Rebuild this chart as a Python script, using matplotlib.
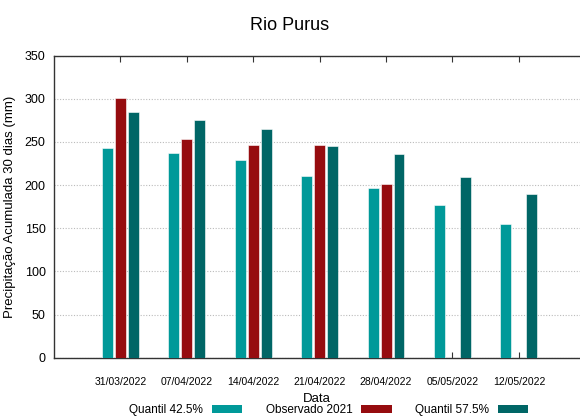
import numpy as np
import matplotlib.pyplot as plt
from matplotlib import font_manager
from matplotlib.patches import Patch

# dados
datas = ["31/03/2022", "07/04/2022", "14/04/2022", "21/04/2022",
         "28/04/2022", "05/05/2022", "12/05/2022"]
quantil_425 = [243, 237, 229, 211, 197, 177, 155]
observado_2021 = [301, 254, 246, 246, 201, np.nan, np.nan]
quantil_575 = [285, 276, 265, 245, 236, 210, 190]

names = {f.name for f in font_manager.fontManager.ttflist}
fam = "Liberation Sans Narrow" if "Liberation Sans Narrow" in names else "Liberation Sans"
plt.rcParams["font.family"] = [fam, "DejaVu Sans"]

fig = plt.figure(figsize=(5.8, 4.18), dpi=100)
ax = fig.add_axes([0.093, 0.1443, 0.907, 0.7224])

x = np.arange(1, len(datas) + 1)
w = 0.165
off = 0.195
series = [
    (quantil_425, "#009999", "Quantil 42.5%", -off),
    (observado_2021, "#960c0f", "Observado 2021", 0),
    (quantil_575, "#006666", "Quantil 57.5%", off),
]
handles = []
for vals, cor, nome, d in series:
    ax.bar(x + d, vals, width=w, color=cor, edgecolor="white", linewidth=0.4, zorder=3)
    handles.append(Patch(facecolor=cor, edgecolor="none", label=nome))

ax.set_xlim(0, 7.92)
ax.set_ylim(0, 350)
ax.set_yticks(np.arange(0, 351, 50))
ax.set_xticks(x)
ax.set_xticklabels(datas, fontsize=7.5)
ax.tick_params(axis="x", direction="in", length=4, top=True, pad=14, color="#333333")
ax.tick_params(axis="y", length=0, labelsize=9, pad=6)
ax.grid(axis="y", linestyle=(0, (1, 1.5)), color="#bbbbbb", linewidth=0.8, zorder=0)
ax.spines["right"].set_visible(False)
for s in ["left", "bottom", "top"]:
    ax.spines[s].set_color("#333333")
    ax.spines[s].set_linewidth(1.0)

ax.set_xlabel("Data", fontsize=9.5, labelpad=4)
ax.set_ylabel("Precipitação Acumulada 30 dias (mm)", fontsize=9.5, labelpad=6)
fig.suptitle("Rio Purus", fontsize=13, y=0.96)

fig.legend(handles=handles, loc="center", bbox_to_anchor=(0.567, 0.019), ncol=3,
           frameon=False, markerfirst=False, handlelength=2.6, handleheight=0.6,
           columnspacing=2.0, handletextpad=0.7, fontsize=8.5, borderpad=0)

fig.savefig("out.png", dpi=100)
